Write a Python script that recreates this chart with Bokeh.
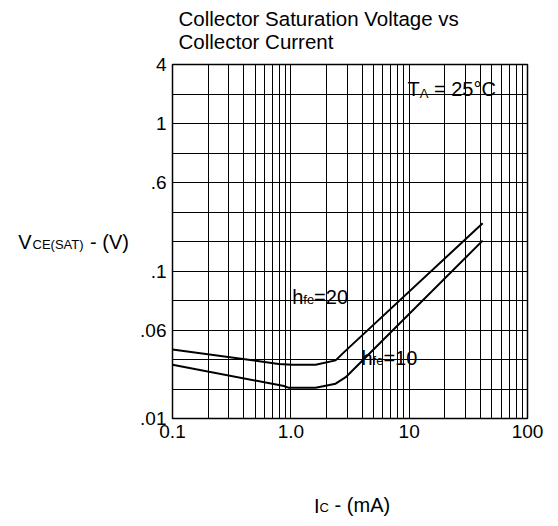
from bokeh.plotting import figure
from bokeh.models import Range1d, FixedTicker, Label
from bokeh.embed import file_html
from bokeh.resources import INLINE

# Collector current (mA) and V_CE(SAT) read as position on the chart's own y scale
# (the scale is labelled .01 ... 4 at grid divisions 0, 3, 5, 8, 10, 12)
ic_hfe20 = [0.1, 0.79, 1.03, 1.62, 2.39, 2.82, 41.8]
v_hfe20 = [2.34, 1.85, 1.82, 1.82, 1.97, 2.25, 6.62]
ic_hfe10 = [0.1, 0.875, 0.96, 1.62, 2.39, 2.91, 41.8]
v_hfe10 = [1.82, 1.10, 1.04, 1.04, 1.18, 1.40, 6.03]

x_ticks = [0.1, 1, 10, 100]
x_tick_labels = ["0.1", "1.0", "10", "100"]
x_minor = [k * 10.0 ** e for e in (-1, 0, 1) for k in range(2, 10)]
y_ticks = [0, 3, 5, 8, 10, 12]
y_tick_labels = [".01", ".06", ".1", ".6", "1", "4"]
y_grid = list(range(13))

FONT = "Liberation Sans"

p = figure(width=550, height=518, x_axis_type="log",
           x_range=Range1d(0.1, 100), y_range=Range1d(0, 12),
           output_backend="svg", toolbar_location=None,
           min_border_left=172, min_border_right=23,
           min_border_top=64, min_border_bottom=100)
p.background_fill_color = "white"
p.border_fill_color = "white"
p.outline_line_color = "black"
p.outline_line_width = 1.5
p.title.text = ""
p.title.text_font_size = "1px"
p.title.standoff = 0

p.xaxis.ticker = FixedTicker(ticks=x_ticks, minor_ticks=x_minor)
p.yaxis.ticker = FixedTicker(ticks=y_ticks, minor_ticks=y_grid)
p.xaxis.major_label_overrides = dict(zip(x_ticks, x_tick_labels))
p.yaxis.major_label_overrides = dict(zip(y_ticks, y_tick_labels))

for ax in (p.xaxis, p.yaxis):
    ax.axis_line_color = None
    ax.major_tick_line_color = None
    ax.minor_tick_line_color = None
    ax.major_tick_in = 0
    ax.major_tick_out = 0
    ax.minor_tick_in = 0
    ax.minor_tick_out = 0
    ax.major_label_text_font = FONT
    ax.major_label_text_font_size = "19px"
    ax.major_label_text_color = "black"
    ax.major_label_standoff = 6

for g in (p.xgrid, p.ygrid):
    g.grid_line_color = "black"
    g.grid_line_width = 1
    g.minor_grid_line_color = "black"
    g.minor_grid_line_width = 1

p.line(ic_hfe20, v_hfe20, line_color="black", line_width=2)
p.line(ic_hfe10, v_hfe10, line_color="black", line_width=2)


def lab(x, y, text, size="20px", place=None):
    l = Label(x=x, y=y, x_units="screen", y_units="screen", text=text,
              text_font=FONT, text_font_size=size, text_color="black",
              text_baseline="alphabetic", text_align="left")
    if place:
        p.add_layout(l, place)
    else:
        p.add_layout(l)


# title (above side panels, first one nearest the plot)
lab(6, 23, "Collector Current", "20.5px", place="above")
lab(6, 23.4, "Collector Saturation Voltage vs", "20.5px", place="above")
# y label (left side panels, each piece stacks outward from the axis)
lab(-106.3, 177, "V", place="left")
lab(-41, 174.5, "CE(SAT)", "13px", place="left")
lab(55.6, 177, "- (V)", place="left")
# x label (below side panels, each piece stacks downward)
lab(141.5, -43, "I", place="below")
lab(147.1, -30, "C", "13px", place="below")
lab(162.1, -5, "- (mA)", place="below")
# T_A
lab(235, 330, "T")
lab(247.2, 325, "A", "13px")
lab(261.5, 330, "= 25°C")
# hfe labels
lab(119.7, 122, "h")
lab(130.8, 119, "fe", "13px")
lab(141.6, 122, "=20")
lab(189, 60.7, "h")
lab(200.1, 57.7, "fe", "13px")
lab(210.9, 60.7, "=10")

open("out.html", "w").write(file_html(p, INLINE))
